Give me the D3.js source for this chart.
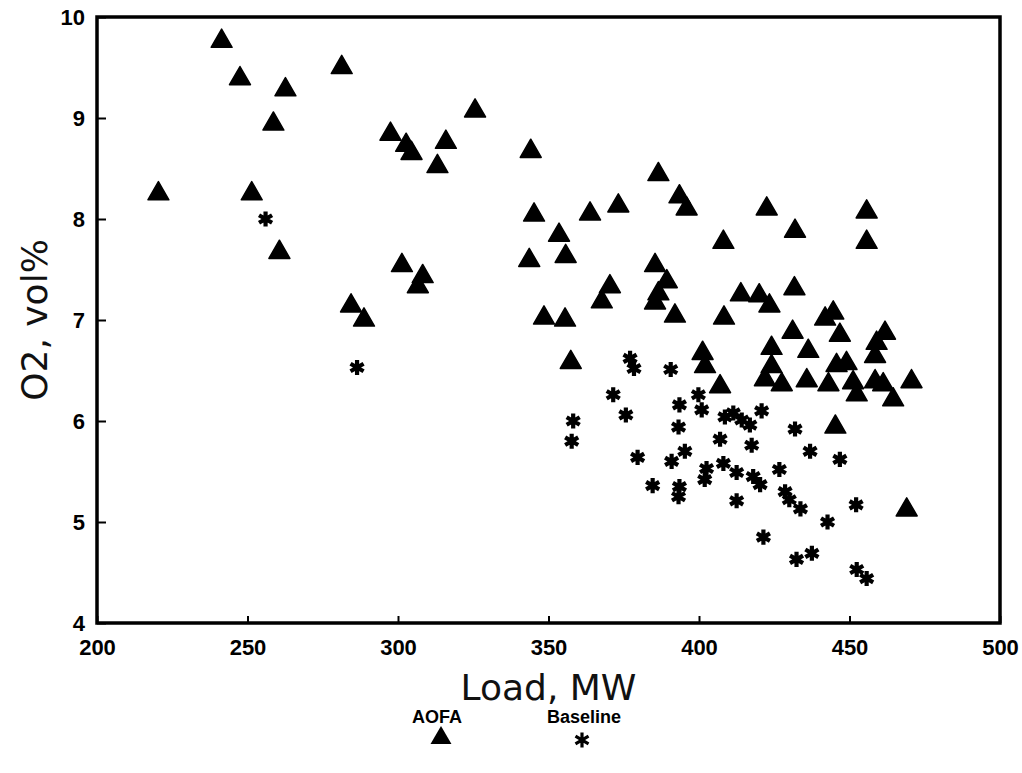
<!DOCTYPE html>
<html>
<head>
<meta charset="utf-8">
<script src="https://cdnjs.cloudflare.com/ajax/libs/d3/7.8.5/d3.min.js"></script>
<style>
  body { margin: 0; background: #fff; }
  svg { display: block; }
  .tick text { font-family: "Liberation Sans", Arial, sans-serif; font-weight: bold; font-size: 22px; fill: #000; }
  .title { font-family: "DejaVu Sans", sans-serif; font-size: 36px; fill: #111; }
  .legend { font-family: "Liberation Sans", Arial, sans-serif; font-weight: bold; font-size: 18px; fill: #000; }
</style>
</head>
<body>
<div id="chart"></div>
<script>
// AOFA points: load (MW), O2 (vol%)
const aofaLoad = [220.4, 241.4, 247.5, 262.6, 258.6, 281.3, 251.4, 260.6, 284.4, 288.7,
  297.5, 302.7, 304.5, 301.3, 308.2, 306.6, 315.9, 313.1, 325.6, 344.1,
  345.2, 353.5, 355.7, 343.6, 348.5, 355.5, 357.4, 363.8, 373.2, 370.4,
  367.7, 386.5, 393.5, 395.9, 385.4, 389.3, 386.5, 385.4, 392.0, 401.2,
  402.0, 407.0, 408.1, 408.3, 413.9, 420.0, 423.4, 422.5, 431.9, 431.7,
  431.1, 424.1, 424.1, 421.9, 427.5, 436.3, 435.8, 443.0, 444.6, 441.9,
  446.8, 445.7, 449.0, 451.2, 452.4, 455.7, 455.7, 461.8, 459.0, 458.5,
  458.5, 461.2, 464.5, 470.6, 445.3, 469.0];
const aofaO2 = [8.25, 9.76, 9.39, 9.28, 8.94, 9.50, 8.25, 7.67, 7.14, 7.00,
  8.84, 8.73, 8.65, 7.54, 7.43, 7.33, 8.76, 8.52, 9.07, 8.67,
  8.04, 7.84, 7.63, 7.59, 7.02, 7.00, 6.58, 8.05, 8.13, 7.33,
  7.18, 8.44, 8.22, 8.10, 7.54, 7.38, 7.26, 7.17, 7.04, 6.67,
  6.54, 6.34, 7.77, 7.02, 7.25, 7.24, 7.14, 8.10, 7.88, 7.31,
  6.88, 6.72, 6.54, 6.41, 6.36, 6.69, 6.40, 6.36, 7.07, 7.01,
  6.85, 6.55, 6.57, 6.38, 6.26, 8.07, 7.77, 6.87, 6.77, 6.64,
  6.39, 6.36, 6.21, 6.39, 5.94, 5.12];

// Baseline points
const baseLoad = [256.0, 286.4, 377.1, 378.4, 390.6, 371.5, 375.7, 358.2, 357.7, 393.5,
  393.2, 399.8, 400.9, 395.3, 390.9, 379.6, 384.6, 393.5, 393.2, 402.5,
  401.9, 408.6, 411.4, 414.2, 416.9, 420.8, 431.9, 407.0, 417.5, 436.9,
  446.8, 408.1, 412.5, 418.0, 420.3, 426.7, 412.5, 428.6, 430.0, 433.7,
  452.2, 442.7, 421.4, 432.4, 437.5, 452.4, 455.7];
const baseO2 = [8.00, 6.53, 6.62, 6.52, 6.51, 6.26, 6.06, 6.00, 5.80, 6.16,
  5.94, 6.26, 6.11, 5.70, 5.60, 5.64, 5.36, 5.35, 5.25, 5.53,
  5.42, 6.04, 6.08, 6.01, 5.96, 6.10, 5.92, 5.82, 5.76, 5.70,
  5.62, 5.58, 5.49, 5.45, 5.37, 5.52, 5.21, 5.30, 5.22, 5.13,
  5.17, 5.00, 4.85, 4.63, 4.69, 4.53, 4.44];

const xTicks = [200, 250, 300, 350, 400, 450, 500];
const yTicks = [4, 5, 6, 7, 8, 9, 10];

const W = 1022, H = 773;
const margin = { top: 17, right: 22, bottom: 150, left: 97 };

const svg = d3.select('#chart').append('svg')
  .attr('width', W)
  .attr('height', H);

const xScale = d3.scaleLinear()
  .domain([200, 500])
  .range([margin.left, W - margin.right]);

const yScale = d3.scaleLinear()
  .domain([4, 10])
  .range([H - margin.bottom, margin.top]);

// x-axis (ticks point inward)
const xAxis = d3.axisBottom(xScale)
  .tickValues(xTicks)
  .tickFormat(d3.format('d'))
  .tickSizeInner(-7)
  .tickSizeOuter(0)
  .tickPadding(16);

svg.append('g')
  .attr('transform', 'translate(0,' + (H - margin.bottom) + ')')
  .call(xAxis)
  .call(g => g.select('.domain').remove())
  .call(g => g.selectAll('.tick line').attr('stroke', '#000').attr('stroke-width', 2));

// y-axis
const yAxis = d3.axisLeft(yScale)
  .tickValues(yTicks)
  .tickFormat(d3.format('d'))
  .tickSizeInner(-9)
  .tickSizeOuter(0)
  .tickPadding(12);

svg.append('g')
  .attr('transform', 'translate(' + margin.left + ',0)')
  .call(yAxis)
  .call(g => g.select('.domain').remove())
  .call(g => g.selectAll('.tick line').attr('stroke', '#000').attr('stroke-width', 2));

// frame
svg.append('rect')
  .attr('x', xScale(200))
  .attr('y', yScale(10))
  .attr('width', xScale(500) - xScale(200))
  .attr('height', yScale(4) - yScale(10))
  .attr('fill', 'none')
  .attr('stroke', '#000')
  .attr('stroke-width', 3.5);

const tri = d3.symbol().type(d3.symbolTriangle).size(190);
const star = d3.symbol().type(d3.symbolAsterisk).size(160);

// baseline stars, with a small filled core so they read as solid
const stars = svg.append('g').selectAll('g')
  .data(d3.range(baseLoad.length))
  .enter().append('g')
  .attr('transform', i => 'translate(' + xScale(baseLoad[i]) + ',' + yScale(baseO2[i]) + ')');
stars.append('path')
  .attr('d', star)
  .attr('fill', 'none')
  .attr('stroke', '#000')
  .attr('stroke-width', 4.2);
stars.append('circle')
  .attr('r', 3.6)
  .attr('fill', '#000');

// AOFA triangles
svg.append('g').selectAll('path')
  .data(d3.range(aofaLoad.length))
  .enter().append('path')
  .attr('d', tri)
  .attr('transform', i => 'translate(' + xScale(aofaLoad[i]) + ',' + yScale(aofaO2[i]) + ')')
  .attr('fill', '#000')
  .attr('stroke', '#000')
  .attr('stroke-width', 1.5)
  .attr('stroke-linejoin', 'round');

// axis titles
svg.append('text')
  .attr('class', 'title')
  .attr('x', (xScale(200) + xScale(500)) / 2)
  .attr('y', 700)
  .attr('text-anchor', 'middle')
  .text('Load, MW');

svg.append('text')
  .attr('class', 'title')
  .attr('transform', 'translate(47,' + ((yScale(4) + yScale(10)) / 2) + ') rotate(-90)')
  .attr('text-anchor', 'middle')
  .text('O2, vol%');

// legend
svg.append('text')
  .attr('class', 'legend')
  .attr('x', 437).attr('y', 723)
  .attr('text-anchor', 'middle')
  .text('AOFA');
svg.append('path')
  .attr('d', tri)
  .attr('transform', 'translate(441,738)')
  .attr('fill', '#000');

svg.append('text')
  .attr('class', 'legend')
  .attr('x', 584).attr('y', 723)
  .attr('text-anchor', 'middle')
  .text('Baseline');
svg.append('path')
  .attr('d', star)
  .attr('transform', 'translate(582,740)')
  .attr('fill', 'none')
  .attr('stroke', '#000')
  .attr('stroke-width', 3.2);
</script>
</body>
</html>
